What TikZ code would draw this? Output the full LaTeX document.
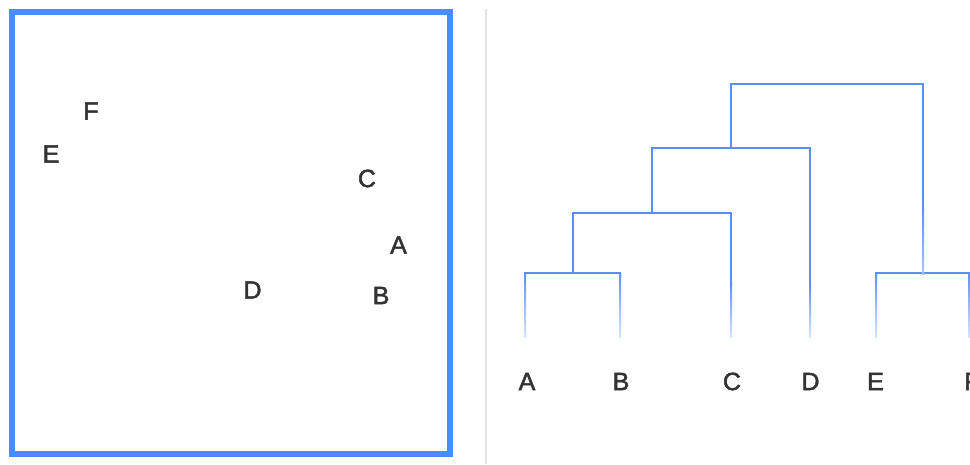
\documentclass[tikz,border=0pt]{standalone}
\usepackage{fontspec}
\setmainfont{Liberation Sans}
\newfontfamily\lblfont{Liberation Sans}[FakeBold=2]
\definecolor{boxblue}{HTML}{4A8CFF}
\definecolor{treeblue}{HTML}{5B8FF5}
\definecolor{fadeblue}{HTML}{D4E3FD}
\definecolor{midblue}{HTML}{A9C5FA}
\definecolor{divgray}{HTML}{E3E3E3}
\definecolor{txt}{HTML}{333333}
\begin{document}
\begin{tikzpicture}[x=1pt,y=-1pt,
  lbl/.style={text=txt,inner sep=0pt,font=\lblfont\fontsize{25}{30}\selectfont},
  tree/.style={draw=treeblue,line width=2pt},
]
\clip (0,0) rectangle (970,464);
\fill[white] (0,0) rectangle (970,464);
% left panel
\draw[boxblue,line width=6pt] (12,12) rectangle (449.5,454);
\node[lbl] (pF) at (91,111) {F};
\node[lbl] (pE) at (51,154) {E};
\node[lbl] (pC) at (367,178.5) {C};
\node[lbl] (pA) at (398.5,245) {A};
\node[lbl] (pD) at (252.5,290) {D};
\node[lbl] (pB) at (381,295.5) {B};
% divider
\draw[divgray,line width=2.5pt] (486,9) -- (486,464);
% dendrogram coordinates
\coordinate (nAB) at (573,273);
\coordinate (nABC) at (652,212.5);
\coordinate (nABCD) at (731,148);
\coordinate (nEF) at (923,273);
\coordinate (nRoot) at (731,84);
% horizontals and upper verticals
\draw[tree] (524,273) -- (621,273);
\draw[tree] (875,273) -- (975,273);
\draw[tree] (nAB) -- (573,212.5);
\draw[tree] (572,212.5) -- (731,212.5) -- (731,283);
\draw[tree] (nABC) -- (652,148);
\draw[tree] (651,148) -- (810,148) -- (810,283);
\draw[tree] (nABCD) -- (nRoot);
\draw[tree] (730,84) -- (923,84) -- (923,206);
% faded segments
\shade[top color=treeblue,bottom color=midblue] (922,205) rectangle (924,274);
\foreach \x/\t in {525/272,620/272,876/272,969/272,731/282,810/282}{
  \shade[top color=treeblue,bottom color=fadeblue] (\x-1,\t) rectangle (\x+1,337);
}
% labels
\node[lbl] (tA) at (527,381.5) {A};
\node[lbl] (tB) at (621,381.5) {B};
\node[lbl] (tC) at (732,381.5) {C};
\node[lbl] (tD) at (810.5,381.5) {D};
\node[lbl] (tE) at (875.5,381.5) {E};
\node[lbl] (tF) at (972,381.5) {F};
\end{tikzpicture}
\end{document}
